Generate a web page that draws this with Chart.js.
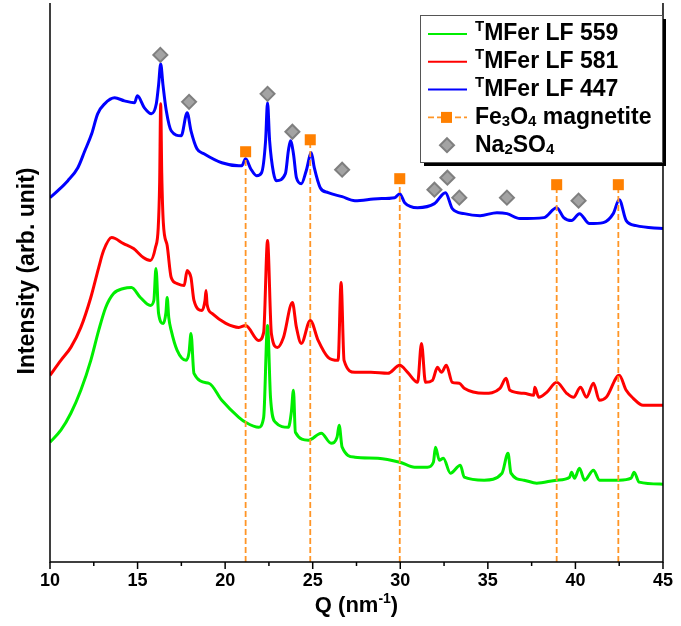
<!DOCTYPE html>
<html lang="en">

<head>
    <meta charset="UTF-8">
    <title>TMFer LF patterns</title>
    <script src="https://cdn.jsdelivr.net/npm/chart.js"></script>
    <style>
        body { margin: 0; background: #fff; }
        canvas { display: block; }
    </style>
</head>

<body>
    <canvas id="xrdChart" width="681" height="626"></canvas>

    <script>
        // values (Q in nm^-1, intensity in arbitrary units)
        const blueQ = [10.00, 10.45, 11.02, 11.59, 11.99, 12.38, 12.72, 13.12, 13.69, 14.25, 14.82, 14.99, 15.39, 15.79, 16.07, 16.20, 16.32, 16.45, 16.64, 16.92, 17.49, 17.83, 18.05, 18.39, 18.79, 19.81, 20.78, 20.95, 21.17, 21.46, 21.80, 22.08, 22.31, 22.42, 22.54, 22.76, 22.93, 23.44, 23.61, 23.73, 23.90, 24.07, 24.35, 24.63, 24.92, 25.09, 25.43, 25.88, 26.68, 27.41, 28.72, 29.68, 29.97, 30.25, 30.99, 31.95, 32.58, 32.97, 33.65, 34.56, 35.52, 36.09, 36.83, 38.19, 38.93, 39.33, 39.78, 40.23, 40.80, 41.59, 42.16, 42.50, 42.90, 43.47, 45.00];
        const blueI = [365, 372, 382, 395, 412, 429, 449, 459, 465, 462, 460, 467, 455, 449, 459, 478, 499, 478, 452, 432, 427, 450, 432, 414, 409, 400, 397, 397, 404, 394, 387, 390, 422, 460, 422, 390, 382, 389, 412, 422, 409, 385, 379, 392, 410, 395, 375, 370, 366, 362, 364, 365, 369, 360, 355, 359, 370, 354, 349, 347, 350, 349, 344, 345, 355, 345, 342, 349, 339, 340, 349, 363, 342, 337, 334];

        const redQ = [10.00, 10.62, 11.19, 11.76, 12.33, 12.78, 13.06, 13.52, 14.20, 14.77, 15.33, 15.73, 16.02, 16.18, 16.26, 16.32, 16.38, 16.47, 16.69, 16.92, 17.26, 17.66, 17.83, 17.94, 18.05, 18.22, 18.68, 18.85, 18.91, 18.97, 19.25, 20.04, 20.78, 21.17, 21.91, 22.20, 22.42, 22.64, 22.99, 23.33, 23.84, 24.07, 24.35, 24.86, 25.31, 25.88, 26.45, 26.62, 26.79, 27.41, 28.32, 29.29, 29.97, 30.42, 30.99, 31.21, 31.44, 31.84, 32.12, 32.35, 32.63, 32.97, 33.37, 33.65, 34.79, 35.69, 36.04, 36.26, 37.06, 37.62, 37.68, 37.91, 38.36, 38.93, 39.50, 39.89, 40.29, 40.63, 41.03, 41.37, 41.76, 42.50, 42.90, 43.30, 43.86, 45.00];
        const redI = [187, 202, 215, 235, 265, 295, 312, 325, 319, 314, 305, 302, 315, 335, 380, 459, 390, 340, 317, 285, 279, 277, 292, 290, 285, 262, 252, 262, 272, 258, 249, 239, 235, 237, 222, 230, 322, 229, 215, 225, 260, 235, 219, 242, 222, 205, 202, 280, 202, 190, 190, 189, 197, 190, 180, 219, 180, 182, 195, 190, 197, 180, 179, 174, 169, 174, 184, 172, 169, 167, 175, 165, 170, 180, 169, 165, 175, 165, 179, 162, 165, 187, 172, 164, 157, 157];

        const greenQ = [10.00, 10.62, 11.19, 11.76, 12.33, 12.78, 13.18, 13.63, 14.20, 14.65, 15.16, 15.73, 15.93, 16.05, 16.20, 16.47, 16.62, 16.69, 16.78, 16.92, 17.26, 17.77, 17.94, 18.05, 18.22, 19.08, 19.81, 20.78, 21.17, 21.91, 22.20, 22.42, 22.59, 22.87, 23.61, 23.78, 23.90, 24.01, 24.75, 25.49, 26.05, 26.39, 26.51, 26.68, 27.41, 28.72, 29.97, 30.82, 31.55, 31.89, 32.01, 32.23, 32.46, 32.86, 33.43, 33.65, 34.79, 35.81, 36.15, 36.32, 37.06, 37.79, 38.93, 39.67, 39.78, 39.95, 40.23, 40.52, 41.03, 41.37, 42.50, 43.18, 43.35, 43.64, 45.00];
        const greenI = [120, 132, 149, 172, 202, 232, 255, 269, 274, 275, 265, 257, 262, 294, 249, 239, 250, 265, 245, 232, 212, 202, 210, 229, 189, 179, 162, 145, 140, 135, 145, 237, 165, 140, 135, 150, 172, 130, 122, 129, 119, 125, 137, 115, 105, 104, 100, 95, 95, 100, 115, 102, 104, 89, 97, 85, 82, 89, 109, 89, 82, 79, 82, 85, 90, 84, 94, 82, 92, 82, 82, 84, 90, 80, 78];

        // reference peak markers
        const magQ = [21.17, 24.86, 29.97, 38.93, 42.45];
        const magI = [411, 423, 384, 378, 378];
        const naQ = [16.30, 17.94, 22.42, 23.84, 26.68, 31.95, 32.69, 33.37, 36.09, 40.18];
        const naI = [508, 461, 469, 431, 393, 373, 385, 365, 365, 362];

        const FONT = '"Liberation Sans", Arial, sans-serif';
        const BLUE = '#0000ff', RED = '#ff0000', GREEN = '#00ee00';
        const ORANGE = '#ff8000', DASH = '#ff9526';

        const pts = (qs, vs) => qs.map((q, i) => ({ x: q, y: vs[i] }));

        const curve = (data, color, order) => ({
            data: data, borderColor: color, borderWidth: 3, showLine: true,
            pointRadius: 0, cubicInterpolationMode: 'monotone', order: order
        });

        const dropLines = magQ.map((q, i) => ({
            data: [{ x: q, y: 0 }, { x: q, y: magI[i] }],
            borderColor: DASH, borderWidth: 1.8, borderDash: [6, 3],
            showLine: true, pointRadius: 0, order: 2
        }));

        // legend rows, drawn by hand because of the sub/superscripts
        const legendRows = [
            { kind: 'line', color: GREEN, parts: [{ t: 'T', sup: true }, { t: 'MFer LF 559' }] },
            { kind: 'line', color: RED, parts: [{ t: 'T', sup: true }, { t: 'MFer LF 581' }] },
            { kind: 'line', color: BLUE, parts: [{ t: 'T', sup: true }, { t: 'MFer LF 447' }] },
            { kind: 'mag', parts: [{ t: 'Fe' }, { t: '3', sub: true }, { t: 'O' }, { t: '4', sub: true }, { t: ' magnetite' }] },
            { kind: 'na', parts: [{ t: 'Na' }, { t: '2', sub: true }, { t: 'SO' }, { t: '4', sub: true }] }
        ];

        function richWidth(ctx, parts, size) {
            let w = 0;
            for (const p of parts) {
                const s = (p.sub || p.sup) ? Math.round(size * 0.64) : size;
                ctx.font = 'bold ' + s + 'px ' + FONT;
                w += ctx.measureText(p.t).width;
            }
            return w;
        }

        function drawRich(ctx, parts, x, y, size) {
            ctx.textBaseline = 'middle';
            ctx.textAlign = 'left';
            for (const p of parts) {
                const s = (p.sub || p.sup) ? Math.round(size * 0.64) : size;
                ctx.font = 'bold ' + s + 'px ' + FONT;
                const dy = p.sup ? -size * 0.3 : (p.sub ? size * 0.2 : 0);
                ctx.fillText(p.t, x, y + dy);
                x += ctx.measureText(p.t).width;
            }
        }

        function diamond(ctx, x, y, r) {
            ctx.beginPath();
            ctx.moveTo(x, y - r); ctx.lineTo(x + r, y); ctx.lineTo(x, y + r); ctx.lineTo(x - r, y);
            ctx.closePath();
            ctx.fillStyle = '#a3a3a3'; ctx.fill();
            ctx.strokeStyle = '#7f7f7f'; ctx.lineWidth = 2; ctx.stroke();
        }

        const framePlugin = {
            id: 'frame',
            afterDraw(chart) {
                const ctx = chart.ctx, a = chart.chartArea, xs = chart.scales.x;
                ctx.save();
                ctx.fillStyle = '#000';

                // spines
                ctx.strokeStyle = '#000'; ctx.lineWidth = 1.5;
                ctx.beginPath();
                ctx.moveTo(a.left, a.top - 6); ctx.lineTo(a.left, a.bottom); ctx.lineTo(a.right, a.bottom); ctx.lineTo(a.right, a.top - 6);
                ctx.stroke();

                // major and minor tick marks
                for (let v = xs.min; v <= xs.max + 0.01; v += 2.5) {
                    const px = xs.getPixelForValue(v);
                    const len = (Math.abs(v % 5) < 0.01) ? 7 : 4;
                    ctx.beginPath(); ctx.moveTo(px, a.bottom); ctx.lineTo(px, a.bottom + len); ctx.stroke();
                }

                // axis titles
                const xt = [{ t: 'Q (nm' }, { t: '-1', sup: true }, { t: ')' }];
                const xw = richWidth(ctx, xt, 22);
                drawRich(ctx, xt, (a.left + a.right) / 2 - xw / 2, 606, 22);

                ctx.save();
                ctx.translate(28, 271);
                ctx.rotate(-Math.PI / 2);
                ctx.font = 'bold 23px ' + FONT;
                ctx.textAlign = 'center'; ctx.textBaseline = 'middle';
                ctx.fillText('Intensity (arb. unit)', 0, 0);
                ctx.restore();

                // legend box with shadow
                const bx = 420, by = 15, bw = 242, bh = 147;
                ctx.fillStyle = '#000';
                ctx.fillRect(bx + 4, by + 4, bw, bh);
                ctx.fillStyle = '#fff';
                ctx.fillRect(bx, by, bw, bh);
                ctx.strokeStyle = '#555'; ctx.lineWidth = 1;
                ctx.strokeRect(bx + 0.5, by + 0.5, bw, bh);

                legendRows.forEach((row, i) => {
                    const y = 34 + i * 27.8;
                    if (row.kind === 'line') {
                        ctx.strokeStyle = row.color; ctx.lineWidth = 2; ctx.setLineDash([]);
                        ctx.beginPath(); ctx.moveTo(428, y); ctx.lineTo(467, y); ctx.stroke();
                    } else if (row.kind === 'mag') {
                        ctx.strokeStyle = DASH; ctx.lineWidth = 1.8; ctx.setLineDash([6, 3]);
                        ctx.beginPath(); ctx.moveTo(428, y); ctx.lineTo(467, y); ctx.stroke();
                        ctx.setLineDash([]);
                        ctx.fillStyle = ORANGE; ctx.fillRect(441, y - 5.5, 11, 11);
                    } else {
                        diamond(ctx, 447, y, 7);
                    }
                    ctx.fillStyle = '#000';
                    drawRich(ctx, row.parts, 475, y, 23);
                });
                ctx.restore();
            }
        };

        new Chart(document.getElementById('xrdChart'), {
            type: 'scatter',
            data: {
                datasets: [
                    {
                        data: pts(naQ, naI), pointStyle: 'rectRot', pointRadius: 7,
                        backgroundColor: '#a3a3a3', borderColor: '#7f7f7f', borderWidth: 2, order: 0
                    },
                    {
                        data: pts(magQ, magI), pointStyle: 'rect', pointRadius: 7.8,
                        backgroundColor: ORANGE, borderColor: ORANGE, borderWidth: 0, order: 1
                    },
                    ...dropLines,
                    curve(pts(blueQ, blueI), BLUE, 3),
                    curve(pts(redQ, redI), RED, 4),
                    curve(pts(greenQ, greenI), GREEN, 5)
                ]
            },
            options: {
                responsive: false,
                animation: false,
                layout: { padding: { left: 50, right: 14, top: 8, bottom: 0 } },
                plugins: { legend: { display: false }, tooltip: { enabled: false } },
                scales: {
                    x: {
                        type: 'linear', min: 10, max: 45,
                        afterFit(s) { s.height = 64; },
                        grid: { display: false, drawTicks: false },
                        border: { display: false },
                        ticks: {
                            stepSize: 5, padding: 8, maxRotation: 0, color: '#000',
                            font: { family: FONT, size: 18, weight: 'bold' }
                        }
                    },
                    y: {
                        min: 0, max: 554,
                        afterFit(s) { s.width = 0; },
                        grid: { display: false, drawTicks: false },
                        border: { display: false },
                        ticks: { display: false }
                    }
                }
            },
            plugins: [framePlugin]
        });
    </script>
</body>

</html>
